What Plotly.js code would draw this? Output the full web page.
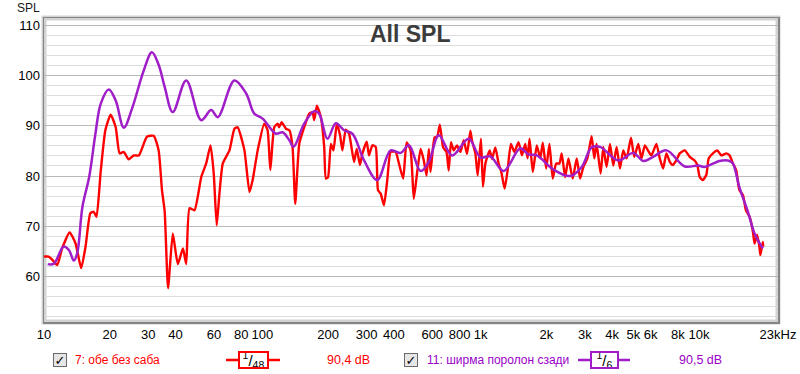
<!DOCTYPE html>
<html>
<head>
<meta charset="utf-8">
<script src="https://cdn.plot.ly/plotly-3.0.1.min.js"></script>
<style>
  html, body { margin: 0; padding: 0; background: #ffffff; }
  #chart { width: 800px; height: 374px; }
</style>
</head>
<body>
<div id="chart"></div>
<script>
// ---- Data ----
const redFreq = [10,10.5,10.9,11.5,12.1,13.1,13.95,14.8,15.5,16.3,16.9,17.4,18.2,19.1,20.2,21.3,22.2,23.2,24.4,25.8,27.2,29.6,31.8,33.5,34.7,35.7,37.0,38.9,41,43.3,44.8,46.4,48.9,52.5,55.3,57.9,59.9,61.8,63.6,65.9,70.7,74.5,77.1,82.8,87.3,90.3,95.2,102,105.7,108.8,113.4,117.5,119.3,122.5,128.3,133,137.5,141.5,147.6,155.5,164,169.7,172.8,177.7,185.4,192,195.4,200,206,211.7,219.3,227,232.6,241,249.6,263,270.6,280,287,300.6,308,319,330.5,338.6,348.4,360.6,373.5,387,407.8,422.3,441.6,458,477.5,494,512,531,549,565,579,589,615,631,650,673,697,714,731,753,779,808,836,866,897,912,946,969,1003,1024,1051,1100,1127,1167,1208,1243,1287,1328,1375,1425,1492,1545,1600,1640,1674,1733,1807,1874,1925,1995,2065,2138,2217,2295,2350,2437,2523,2640,2753,2854,2953,3081,3222,3315,3396,3543,3645,3773,3910,4050,4194,4345,4498,4660,4880,5050,5270,5450,5650,5850,6050,6380,6610,6850,7090,7350,7600,7870,8160,8610,9070,9550,9820,10070,10400,10800,11070,11580,12130,12650,13330,13800,14300,14800,15300,15900,16400,17060,17660,17960,18450,18900,19100,19600,19700];
const redDb = [64,64,63.4,62.3,65.6,68.8,66.6,61.7,66,72.6,72.9,71.9,81.1,89.1,92.2,89.7,84.5,84.8,83.3,84.1,84.1,87.8,88,85.1,77.2,73,57.7,68.6,62.5,65.6,62.5,73.6,73.2,79.8,82.5,86.1,80.5,70.2,76.5,82.5,85.1,89.4,89.7,85.1,76.8,79.2,85.1,90.4,89.1,81.2,89.7,90.4,89.7,90.7,89.4,89.1,85.8,74.5,86.4,89.7,92.4,92.7,91.1,94,91.7,85.8,79.5,79.8,86.4,85.1,90.4,88.1,85.1,89.2,88.4,82.8,85.4,82.2,84.4,86.8,84.1,86.1,85.8,77.2,76.5,74.2,79.2,84.8,84.8,82.5,79.5,86.7,85.1,75.5,80.8,85.4,83.1,80.1,85.4,80.8,87.7,87.7,90.2,85.7,84.8,81.1,86.7,85.1,86.1,84.8,87.1,84.4,89,87.1,84.4,80.1,87.4,77.9,82.5,85.1,83.4,85.7,82.5,80.8,77.5,81.1,86.4,84.8,86.7,84.1,86.4,83.5,87.4,80.8,86.1,83.5,86.6,81.5,86.4,79.5,82.5,82.5,84.5,79.8,83.5,79.5,83.5,79.5,81.8,83.5,87.9,83.5,86.4,80.5,85.8,81.8,86.4,82.1,85.8,81.5,85.1,83.5,87.6,83.8,86.4,83.5,86.1,85,84.1,86.4,83.5,81.5,84.5,82.8,82.2,83.1,84.5,85.1,83.8,83.1,82.2,79.8,79.2,80.2,83.5,84.5,85.1,84.1,84.5,84.1,82.5,81.2,77.2,76.2,73.2,71.9,68.9,66.6,68.3,66,64.3,66.9,66];

const purpleFreq = [10.4,11.1,12.3,13.0,13.7,14.2,15.0,16.1,17.2,18.2,19.8,21.3,23.2,25.3,28.6,31.2,33.5,35.7,38.9,44.8,52.5,58.3,62.5,74.5,84.3,91.9,100.3,115.5,123.8,133,139,155.5,172.8,182,198.7,217,236.8,258.5,292.4,336,387,430,469,530.6,578.8,643,739.6,881,997,1107,1274,1518,1656,1807,2155,2568,2902,3222,3520,4270,5000,5550,6160,7090,8610,9900,10600,12430,13800,14300,15300,16750,17960,19600];
const purpleDb = [62.5,62.6,66,65.3,63.2,64.7,73.9,79.8,88.4,94.4,97.2,95,89.6,93.4,100.9,104.6,102.1,97.7,92.7,99,91.1,93.1,91.7,99,96.4,92.4,91.4,88.4,88.7,87.1,85.8,90.4,92.9,92.4,87.4,90.5,89.1,88.4,83.1,79.2,85.1,84.6,86.1,81,82.8,88.1,84.1,87.4,83.7,83.9,81,85.5,84.3,84.1,81.3,80,81.8,85.7,85.8,83.1,84.6,83,83.8,85.1,81.9,82.1,81.8,83,83,82.5,77.8,72.9,68.6,65.6];

const seriesNames = ['7: обе без саба', '11: ширма поролон сзади'];
const smoothingText = ['<sup>1</sup>/<sub>48</sub>', '<sup>1</sup>/<sub>6</sub>'];
const levelText = ['90,4 dB', '90,5 dB'];

const xTickVals = [10,20,30,40,60,80,100,200,300,400,600,800,1000,2000,3000,4000,5000,6000,8000,10000,23000];
const xTickText = ['10','20','30','40','60','80','100','200','300','400','600','800','1k','2k','3k','4k','5k','6k','8k','10k','23kHz'];
const xMinorGrid = [20,30,40,50,60,70,80,90,200,300,400,500,600,700,800,900,2000,3000,4000,5000,6000,7000,8000,9000,20000];
const xDecadeGrid = [100,1000,10000];
const yTickVals = [60,70,80,90,100,110];

// ---- Layout geometry ----
const W = 800, H = 374;
const M = {l: 44, r: 22, t: 18, b: 52};
const PW = W - M.l - M.r, PH = H - M.t - M.b;
const px = x => (x - M.l) / PW;
const py = y => (H - M.b - y) / PH;

const RED = '#ff0000';
const PURPLE = '#a01ec8';
const PURPLE_TXT = '#9a00c8';
const FONT = 'Liberation Sans, Arial, sans-serif';
const xRange = [1, Math.log10(23000)];

const traces = [
  {x: redFreq, y: redDb, type: 'scatter', mode: 'lines', name: seriesNames[0],
   line: {color: RED, width: 2.4, shape: 'spline', smoothing: 0.5}, hoverinfo: 'skip'},
  {x: purpleFreq, y: purpleDb, type: 'scatter', mode: 'lines', name: seriesNames[1],
   line: {color: PURPLE, width: 2.5, shape: 'spline', smoothing: 1}, hoverinfo: 'skip'}
];

const annotations = [
  {xref: 'paper', yref: 'paper', x: px(410), y: py(34), text: '<b>All SPL</b>', showarrow: false,
   font: {family: FONT, size: 23, color: '#3c3c3c'}, xanchor: 'center', yanchor: 'middle'},
  {xref: 'paper', yref: 'paper', x: px(15), y: py(8), text: 'SPL', showarrow: false,
   font: {family: FONT, size: 12, color: '#1a1a1a'}, xanchor: 'left', yanchor: 'middle'}
];

const legendRows = [
  {cb: 60, txt: 73, l0: 226, l1: 280, box: 253, val: 325, color: RED, tcolor: RED},
  {cb: 411, txt: 425, l0: 578, l1: 630, box: 604, val: 677, color: PURPLE, tcolor: PURPLE_TXT}
];
const shapes = [
  {type: 'rect', xref: 'paper', yref: 'paper', x0: 0, x1: 1, y0: 0, y1: 1,
   line: {color: '#d2d2d2', width: 5}, layer: 'below'}
];
const LY = 360;
legendRows.forEach((r, i) => {
  annotations.push({xref: 'paper', yref: 'paper', x: px(r.cb), y: py(LY), text: '<b>✓</b>', showarrow: false,
    font: {family: 'DejaVu Sans', size: 13, color: '#000'}, bgcolor: '#e6e6e6', bordercolor: '#6a6a6a',
    borderwidth: 1, width: 12, height: 12, borderpad: 0, xanchor: 'center', yanchor: 'middle'});
  annotations.push({xref: 'paper', yref: 'paper', x: px(r.txt), y: py(LY), text: seriesNames[i], showarrow: false,
    font: {family: FONT, size: 12, color: r.tcolor}, xanchor: 'left', yanchor: 'middle'});
  shapes.push({type: 'line', xref: 'paper', yref: 'paper', x0: px(r.l0), x1: px(r.l1), y0: py(LY), y1: py(LY),
    line: {color: r.color, width: 2.5}});
  annotations.push({xref: 'paper', yref: 'paper', x: px(r.box), y: py(LY), text: smoothingText[i], showarrow: false,
    font: {family: FONT, size: 15, color: '#000'}, bgcolor: '#ffffff', bordercolor: r.color, borderwidth: 2,
    borderpad: 0, width: i === 0 ? 27 : 25, height: 14, xanchor: 'center', yanchor: 'middle'});
  annotations.push({xref: 'paper', yref: 'paper', x: px(r.val), y: py(LY), text: levelText[i], showarrow: false,
    font: {family: FONT, size: 12.5, color: r.tcolor}, xanchor: 'left', yanchor: 'middle'});
});

const layout = {
  width: W, height: H,
  margin: M,
  paper_bgcolor: '#ffffff', plot_bgcolor: '#ffffff',
  showlegend: false,
  hovermode: false,
  font: {family: FONT, size: 13, color: '#000'},
  xaxis: {type: 'log', range: xRange, tickmode: 'array', tickvals: xTickVals, ticktext: xTickText,
    showgrid: false, zeroline: false, ticks: '', showline: true, mirror: true, linecolor: '#858585', linewidth: 1.5,
    tickfont: {family: FONT, size: 13, color: '#000'}, fixedrange: true},
  xaxis2: {type: 'log', range: xRange, overlaying: 'x', tickmode: 'array', tickvals: xMinorGrid,
    showticklabels: false, showgrid: true, gridcolor: '#c6c6c6', gridwidth: 1, zeroline: false, ticks: '', showline: false},
  xaxis3: {type: 'log', range: xRange, overlaying: 'x', tickmode: 'array', tickvals: xDecadeGrid,
    showticklabels: false, showgrid: true, gridcolor: '#8c8c8c', gridwidth: 1, zeroline: false, ticks: '', showline: false},
  yaxis: {range: [51, 111.4], tickmode: 'array', tickvals: yTickVals, showgrid: true, gridcolor: '#b9b9b9',
    zeroline: false, ticks: '', showline: true, mirror: true, linecolor: '#858585', linewidth: 1.5,
    minor: {tickmode: 'linear', tick0: 0, dtick: 2, showgrid: true, gridcolor: '#dddddd', ticks: ''},
    tickfont: {family: FONT, size: 13, color: '#000'}, fixedrange: true},
  annotations: annotations,
  shapes: shapes
};

Plotly.newPlot('chart', traces, layout, {displayModeBar: false, staticPlot: true});
</script>
</body>
</html>
